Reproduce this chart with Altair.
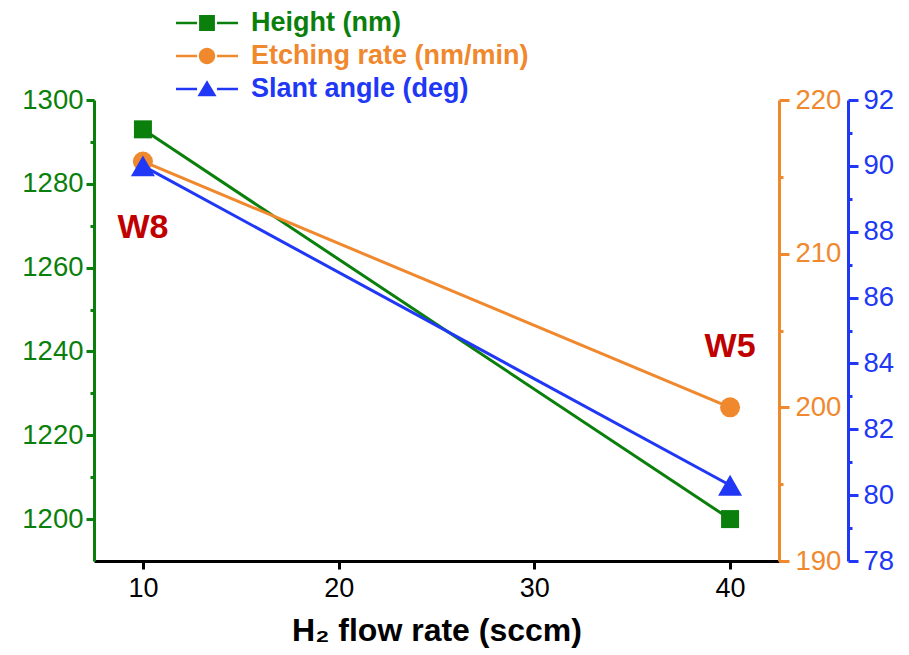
import altair as alt
import pandas as pd

# ---- data ----
flow = [10, 40]
height_nm = [1293, 1200]
etch_rate = [216, 200]
slant_deg = [90, 80.3]

series = ["Height (nm)", "Etching rate (nm/min)", "Slant angle (deg)"]
colors = ["#0b7f0b", "#f0882e", "#2038f5"]

x_ticks = [10, 20, 30, 40]
green_ticks = [1200, 1210, 1220, 1230, 1240, 1250, 1260, 1270, 1280, 1290, 1300]
orange_ticks = [190, 195, 200, 205, 210, 215, 220]
blue_ticks = [78, 79, 80, 81, 82, 83, 84, 85, 86, 87, 88, 89, 90, 91, 92]

label_text = ["W8", "W5"]
label_x = [10, 40]
label_y = [1269.5, 1241]

FONT = "Liberation Sans"

# legend glyphs: line - marker - line (unit box paths)
seg = "M-2.27,-0.1H-0.73V0.1H-2.27Z M0.73,-0.1H2.27V0.1H0.73Z "
legend_paths = [
    seg + "M-0.58,-0.58H0.58V0.58H-0.58Z",
    seg + "M-0.6,0 A0.6,0.6 0 1,0 0.6,0 A0.6,0.6 0 1,0 -0.6,0 Z",
    seg + "M0,-0.64 L0.7,0.54 L-0.7,0.54 Z",
]

df = pd.DataFrame({"flow": flow, "height": height_nm, "etch": etch_rate, "slant": slant_deg})
lbl = pd.DataFrame({"text": label_text, "lx": label_x, "ly": label_y})
leg = pd.DataFrame({"series": series, "flow": [100, 100, 100]})

xscale = alt.Scale(domain=[7.5, 42.5], nice=False, zero=False)
gscale = alt.Scale(domain=[1190, 1300], nice=False, zero=False)
oscale = alt.Scale(domain=[190, 220], nice=False, zero=False)
bscale = alt.Scale(domain=[78, 92], nice=False, zero=False)

xaxis = alt.Axis(
    values=x_ticks, title="H₂ flow rate (sccm)", grid=False, format="d",
    titleFont=FONT, titleFontSize=32, titleFontWeight="bold", titleColor="black", titlePadding=14,
    labelFont=FONT, labelFontSize=27, labelColor="black", labelPadding=6, labelFlush=False,
    domainColor="black", domainWidth=3, tickColor="black", tickWidth=3, tickSize=8,
)


def yaxis(color, ticks, step, orient, offset=0, major=8, pad=3):
    return alt.Axis(
        orient=orient, offset=offset, values=ticks, title=None, grid=False, format="d",
        labelExpr=f"datum.value % {step} == 0 ? datum.label : ''",
        tickSize={"condition": {"test": f"datum.value % {step} == 0", "value": major}, "value": 4},
        labelFont=FONT, labelFontSize=27.5, labelColor=color, labelPadding=pad,
        labelFlush=False, labelOverlap=False,
        domainColor=color, domainWidth=3, tickColor=color, tickWidth=3,
    )


green_axis = yaxis(colors[0], green_ticks, 20, "left")

green_line = alt.Chart(df).mark_line(
    color=colors[0], strokeWidth=3,
    point=alt.OverlayMarkDef(shape="square", size=324, filled=True, color=colors[0], opacity=1),
).encode(
    x=alt.X("flow:Q", scale=xscale, axis=xaxis),
    y=alt.Y("height:Q", scale=gscale, axis=green_axis),
)

w_labels = alt.Chart(lbl).mark_text(
    font=FONT, fontSize=34, fontWeight="bold", color="#c00000"
).encode(
    x=alt.X("lx:Q", scale=xscale, axis=xaxis),
    y=alt.Y("ly:Q", scale=gscale, axis=green_axis),
    text="text:N",
)

green_group = alt.layer(green_line, w_labels)

orange_line = alt.Chart(df).mark_line(
    color=colors[1], strokeWidth=3,
    point=alt.OverlayMarkDef(shape="circle", size=400, filled=True, color=colors[1], opacity=1),
).encode(
    x=alt.X("flow:Q", scale=xscale, axis=xaxis),
    y=alt.Y("etch:Q", scale=oscale,
            axis=yaxis(colors[1], orange_ticks, 10, "right", major=10, pad=6)),
)

blue_line = alt.Chart(df).mark_line(
    color=colors[2], strokeWidth=3,
    point=alt.OverlayMarkDef(shape="triangle-up", size=576, filled=True, color=colors[2], opacity=1),
).encode(
    x=alt.X("flow:Q", scale=xscale, axis=xaxis),
    y=alt.Y("slant:Q", scale=bscale,
            axis=yaxis(colors[2], blue_ticks, 2, "right", 69, major=10, pad=5)),
)

label_color_expr = (
    f"datum.value == '{series[0]}' ? '{colors[0]}' : "
    f"datum.value == '{series[1]}' ? '{colors[1]}' : '{colors[2]}'"
)


def make_legend():
    return alt.Legend(
        title=None, orient="none", legendX=99, legendY=-91, padding=0,
        labelFont=FONT, labelFontSize=27, labelFontWeight="bold", labelLimit=500,
        labelColor=alt.ExprRef(label_color_expr), labelOffset=30,
        symbolSize=745, symbolStrokeWidth=0, rowPadding=6,
    )


legend_layer = alt.Chart(leg).mark_point(filled=True, clip=True, size=745, opacity=1).encode(
    x=alt.X("flow:Q", scale=xscale, axis=xaxis),
    color=alt.Color("series:N", scale=alt.Scale(domain=series, range=colors), legend=make_legend()),
    shape=alt.Shape("series:N", scale=alt.Scale(domain=series, range=legend_paths), legend=make_legend()),
)

chart = alt.layer(green_group, orange_line, blue_line, legend_layer).resolve_scale(
    y="independent"
).properties(
    width=685, height=461,
    autosize=alt.AutoSizeParams(type="none"),
    padding={"left": 86, "top": 92, "right": 120, "bottom": 90},
).configure_view(stroke=None)

chart.save("out.html", embed_options={"renderer": "svg", "actions": False})
